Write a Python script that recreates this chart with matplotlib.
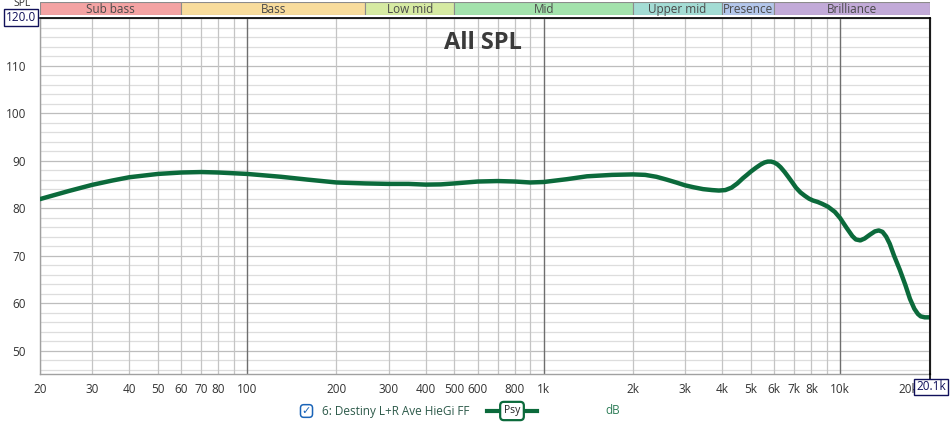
import numpy as np
import matplotlib.pyplot as plt
from matplotlib.patches import Rectangle
from matplotlib.ticker import FixedLocator, NullFormatter
from matplotlib.transforms import offset_copy

plt.rcParams['font.family'] = ['Open Sans', 'DejaVu Sans']

# frequency response (Hz, dB SPL)
freq = [20, 25, 30, 35, 40, 50, 60, 70, 80, 100, 130, 160, 200, 250, 300, 350,
        400, 450, 500, 600, 700, 800, 900, 1000, 1200, 1400, 1700, 2000, 2200,
        2400, 2600, 2800, 3000, 3200, 3450, 3700, 3900, 4100, 4300, 4500, 4700,
        4850, 5000, 5200, 5400, 5550, 5700, 5850, 6000, 6150, 6300, 6500, 6700,
        6900, 7100, 7350, 7600, 7850, 8100, 8400, 8700, 9100, 9600, 10000,
        10500, 11000, 11300, 11700, 12100, 12600, 13100, 13500, 13900, 14300,
        14700, 15200, 15900, 16600, 17200, 17800, 18300, 18700, 19300, 20100]
spl = [81.9, 83.6, 84.9, 85.8, 86.5, 87.2, 87.5, 87.6, 87.5, 87.2, 86.6, 86.0,
       85.4, 85.2, 85.1, 85.1, 84.95, 85.0, 85.2, 85.6, 85.7, 85.6, 85.4, 85.5,
       86.1, 86.7, 87.0, 87.1, 87.0, 86.6, 86.0, 85.4, 84.8, 84.4, 84.0, 83.8,
       83.7, 83.8, 84.3, 85.2, 86.3, 87.0, 87.7, 88.5, 89.2, 89.6, 89.8, 89.8,
       89.6, 89.2, 88.6, 87.6, 86.5, 85.4, 84.3, 83.3, 82.6, 82.0, 81.6, 81.3,
       80.9, 80.3, 79.2, 77.9, 75.9, 74.1, 73.4, 73.2, 73.6, 74.4, 75.1, 75.3,
       75.0, 74.0, 72.5, 70.0, 67.0, 63.8, 60.9, 58.8, 57.7, 57.2, 57.0, 57.0]

# frequency bands along the top
band_names = ['Sub bass', 'Bass', 'Low mid', 'Mid', 'Upper mid', 'Presence', 'Brilliance']
band_edges = [20, 60, 250, 500, 2000, 4000, 6000, 20100]
band_colors = ['#f4a3a3', '#f8dc9c', '#d6eaa2', '#a3e2ac', '#a3dcd4', '#b3c6ea', '#c2aad8']

xtick_vals = [20, 30, 40, 50, 60, 70, 80, 100, 200, 300, 400, 500, 600, 800,
              1000, 2000, 3000, 4000, 5000, 6000, 7000, 8000, 10000, 20000]
xtick_labels = ['20', '30', '40', '50', '60', '70', '80', '100', '200', '300',
                '400', '500', '600', '800', '1k', '2k', '3k', '4k', '5k', '6k',
                '7k', '8k', '10k', '20k']
ytick_vals = [50, 60, 70, 80, 90, 100, 110]

W, H = 950, 425
fig = plt.figure(figsize=(9.5, 4.25), dpi=100)
ax = fig.add_axes([40 / W, (H - 374.3) / H, 890 / W, (374.3 - 18.2) / H])

ax.set_xscale('log')
ax.set_xlim(20, 20100)
ax.set_ylim(45, 120)

# grid: horizontal first, vertical on top
for v in range(46, 120, 2):
    ax.axhline(v, color='#bdbdbd' if v % 10 == 0 else '#dddddd', lw=0.9, zorder=1)
minor_x = [m * d for d in (10, 100, 1000, 10000) for m in range(2, 10) if 20 <= m * d <= 20100]
for f in minor_x:
    ax.axvline(f, color='#c4c4c4', lw=0.9, zorder=1.5)
for f in (100, 1000, 10000):
    ax.axvline(f, color='#6e6e6e', lw=1.0, zorder=1.6)

ax.plot(freq, spl, color='#0b6a3b', lw=3.2, solid_capstyle='round',
        solid_joinstyle='round', zorder=3)

# x labels: all but the last as tick labels; the last one sits partly
# under the cursor readout, as in the original
ax.xaxis.set_major_locator(FixedLocator(xtick_vals[:-1]))
ax.set_xticklabels(xtick_labels[:-1])
ax.xaxis.set_minor_formatter(NullFormatter())
ax.xaxis.set_minor_locator(FixedLocator([]))
ax.set_yticks(ytick_vals)
ax.tick_params(axis='both', length=0, labelsize=8.5, colors='#333333', pad=6)
ax.tick_params(axis='y', pad=10)
last_tr = offset_copy(ax.get_xaxis_transform(), fig=fig, x=-15, y=-6, units='points')
ax.text(xtick_vals[-1], 0, xtick_labels[-1], transform=last_tr, ha='center', va='top',
        fontsize=8.5, color='#333333', clip_on=False, zorder=2)
for s in ax.spines.values():
    s.set_color('#a0a0a0')
    s.set_linewidth(1)

ax.text(0.498, 0.93, 'All SPL', transform=ax.transAxes, ha='center', va='center',
        fontsize=17, fontweight='bold', color='#3a3a3a', zorder=4)

# cursor lines
ax.axhline(120, color='black', lw=1.2, zorder=5, clip_on=False)
ax.axvline(20100, color='black', lw=1.2, zorder=5, clip_on=False)
ax.plot([20100, 20100], [45, 43], color='black', lw=1.2, clip_on=False, zorder=5)

# band strip
bax = fig.add_axes([40 / W, (H - 15) / H, 890 / W, 13.3 / H])
bax.set_xscale('log')
bax.set_xlim(20, 20100)
bax.set_ylim(0, 1)
bax.axis('off')
for i, name in enumerate(band_names):
    lo, hi = band_edges[i], band_edges[i + 1]
    bax.add_patch(Rectangle((lo, 0), hi - lo, 1, facecolor=band_colors[i],
                            edgecolor='#8c8c8c', lw=0.8))
    bax.text(np.sqrt(lo * hi), 0.45, name, ha='center', va='center',
             fontsize=8.5, color='#4a4a4a')

# axis labels / cursor readouts
fig.text(22 / W, 1 - 4 / H, 'SPL', ha='center', va='center', fontsize=7.5, color='#333333')
fig.text(21 / W, 1 - 17.5 / H, '120.0', ha='center', va='center', fontsize=8.5,
         color='#10105a', bbox=dict(boxstyle='square,pad=0.15', fc='white', ec='#10105a', lw=1))
fig.text(931 / W, 1 - 387 / H, '20.1k', ha='center', va='center', fontsize=8.5,
         color='#10105a', zorder=10,
         bbox=dict(boxstyle='square,pad=0.15', fc='white', ec='#10105a', lw=1))

# legend
fig.text(306.5 / W, 1 - 411 / H, '✓', ha='center', va='center', fontsize=8,
         color='#1a64b8', family=['DejaVu Sans'],
         bbox=dict(boxstyle='round,pad=0.12,rounding_size=0.3', fc='white', ec='#1a64b8', lw=1.1))
fig.text(322 / W, 1 - 411 / H, '6: Destiny L+R Ave HieGi FF', ha='left', va='center',
         fontsize=8.5, color='#2d5a4a')
fig.add_artist(plt.Line2D([487 / W, 537 / W], [1 - 411 / H, 1 - 411 / H],
                          color='#0b6a3b', lw=3, transform=fig.transFigure))
fig.text(512 / W, 1 - 411 / H, 'Psy', ha='center', va='center', fontsize=7.5, color='#222222',
         bbox=dict(boxstyle='round,pad=0.35,rounding_size=0.35', fc='white', ec='#0b6a3b', lw=1.6))
fig.text(613 / W, 1 - 411 / H, 'dB', ha='center', va='center', fontsize=8.5, color='#2e7d58')

fig.savefig('out.png', dpi=100)
